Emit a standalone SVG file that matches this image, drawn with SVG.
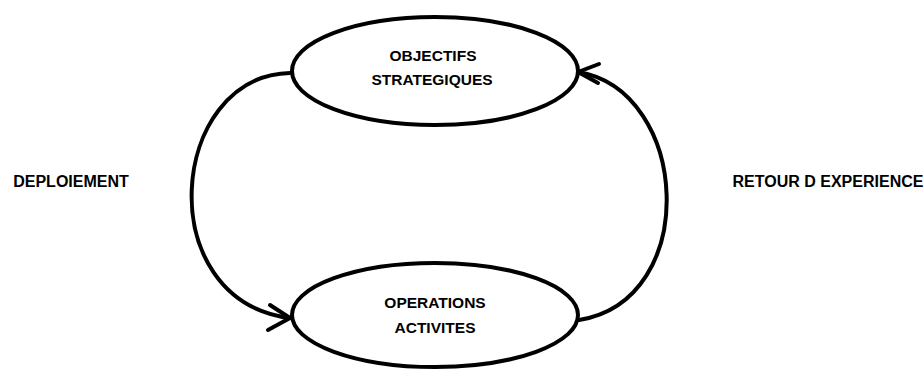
<svg xmlns="http://www.w3.org/2000/svg" width="924" height="371" viewBox="0 0 924 371">
<style>
.n{fill:#fff;stroke:#000;stroke-width:4}
.c{fill:none;stroke:#000;stroke-width:4;stroke-linecap:round;stroke-linejoin:round}
text{font-family:"Liberation Sans",Arial,sans-serif;font-weight:bold;font-size:15.5px;fill:#000;text-anchor:middle}
.s{font-size:16px}
</style>
<rect width="924" height="371" fill="#fff"/>
<g id="connectors">
<path class="c" d="M290,73 C168,76 150,300 290,318"/>
<polyline class="c" points="270,305 290,318 268,330"/>
<path class="c" d="M579,320 C702,300 690,90 578,72"/>
<polyline class="c" points="599,64 578,72 598,83"/>
</g>
<g id="objectifs">
<ellipse class="n" cx="435" cy="71" rx="143" ry="54"/>
<text x="433" y="61">OBJECTIFS</text>
<text x="432" y="85">STRATEGIQUES</text>
</g>
<g id="operations">
<ellipse class="n" cx="435" cy="315" rx="143" ry="52"/>
<text x="435" y="308">OPERATIONS</text>
<text x="435" y="333">ACTIVITES</text>
</g>
<g id="deploiement">
<text class="s" x="71" y="187">DEPLOIEMENT</text>
</g>
<g id="retour">
<text class="s" x="828" y="187">RETOUR D EXPERIENCE</text>
</g>
</svg>
